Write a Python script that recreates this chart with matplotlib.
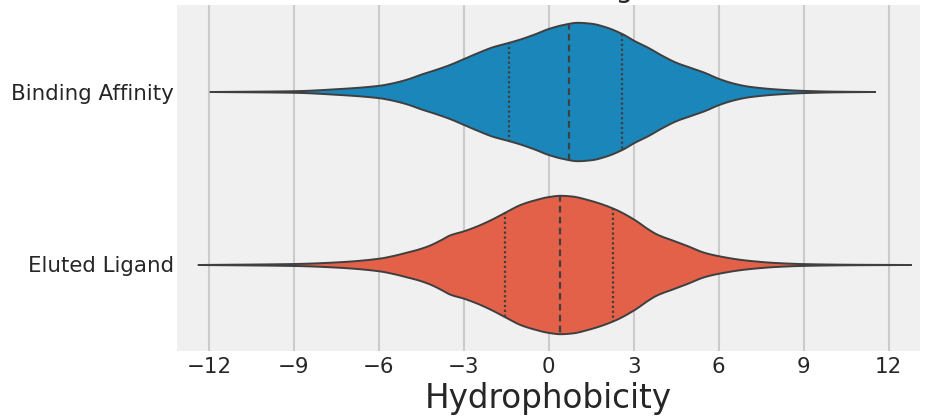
import numpy as np
import matplotlib
matplotlib.use("Agg")
import matplotlib.pyplot as plt
import seaborn as sns

# Categories and their violin profiles (hydrophobicity vs. relative density)
categories = ["Binding Affinity", "Eluted Ligand"]

binding_x = [-11.97, -9.0, -7.5, -6.0, -5.5, -5.0, -4.5, -4.0, -3.5, -3.0, -2.5,
             -2.0, -1.42, -1.0, -0.5, 0.0, 0.5, 1.0, 1.5, 2.0, 2.6, 3.0, 3.5,
             4.0, 4.5, 5.0, 5.5, 6.0, 6.5, 7.0, 7.5, 8.0, 9.0, 10.0, 11.51]
binding_density = [0.0, 0.8, 2.8, 6.2, 8.8, 12.5, 17.5, 22.0, 27.0, 33.0, 39.0,
                   44.5, 49.0, 52.5, 57.5, 63.0, 66.8, 69.0, 68.0, 64.5, 57.5, 51.0, 44.0,
                   36.0, 29.0, 24.0, 19.0, 13.0, 8.5, 5.5, 3.8, 2.6, 1.1, 0.4, 0.0]

eluted_x = [-12.39, -9.0, -7.5, -6.0, -5.5, -5.0, -4.6, -4.2, -3.8, -3.5, -3.0,
            -2.5, -2.0, -1.56, -1.0, -0.5, 0.0, 0.4, 0.8, 1.4, 2.28, 3.0, 3.5,
            3.8, 4.4, 4.87, 5.5, 6.0, 6.8, 7.5, 8.0, 9.0, 10.5, 12.78]
eluted_density = [0.0, 1.0, 2.6, 6.3, 9.0, 12.5, 15.5, 19.5, 25.0, 29.5, 33.7,
                  39.0, 45.5, 52.0, 60.0, 64.5, 67.8, 69.0, 68.3, 64.5, 56.0, 45.2, 35.5,
                  30.5, 24.0, 19.0, 12.0, 8.7, 5.0, 3.0, 2.0, 0.9, 0.3, 0.0]

# Quartiles (Q1, median, Q3)
binding_quartiles = [-1.42, 0.72, 2.60]
eluted_quartiles = [-1.56, 0.40, 2.28]

x_ticks = [-12, -9, -6, -3, 0, 3, 6, 9, 12]


def smooth_outline(xs, ys, n=600):
    """Monotone cubic (PCHIP) curve through the profile points for drawing."""
    xs = np.asarray(xs, dtype=float)
    ys = np.asarray(ys, dtype=float)
    h = np.diff(xs)
    delta = np.diff(ys) / h
    d = np.zeros_like(ys)
    for k in range(1, len(xs) - 1):
        if delta[k - 1] * delta[k] > 0:
            w1 = 2 * h[k] + h[k - 1]
            w2 = h[k] + 2 * h[k - 1]
            d[k] = (w1 + w2) / (w1 / delta[k - 1] + w2 / delta[k])
    d[0] = delta[0]
    d[-1] = delta[-1]
    xf = np.linspace(xs[0], xs[-1], n)
    idx = np.clip(np.searchsorted(xs, xf) - 1, 0, len(xs) - 2)
    t = (xf - xs[idx]) / h[idx]
    h00 = 2 * t**3 - 3 * t**2 + 1
    h10 = t**3 - 2 * t**2 + t
    h01 = -2 * t**3 + 3 * t**2
    h11 = t**3 - t**2
    yf = (h00 * ys[idx] + h10 * h[idx] * d[idx]
          + h01 * ys[idx + 1] + h11 * h[idx] * d[idx + 1])
    return xf, np.clip(yf, 0, None)


plt.style.use("fivethirtyeight")
palette = [sns.desaturate(c, 0.75) for c in ["#008fd5", "#fc4f30"]]
line_color = "#3f3f3f"

fig = plt.figure(figsize=(9.25, 4.17), dpi=100, facecolor="white")
ax = fig.add_axes([177 / 925, 1 - 351 / 417, 743 / 925, 346 / 417])
ax.set_facecolor("#f0f0f0")

profiles = [(binding_x, binding_density, binding_quartiles),
            (eluted_x, eluted_density, eluted_quartiles)]
peak = max(max(binding_density), max(eluted_density))

for i, ((xs, dens, quarts), color) in enumerate(zip(profiles, palette)):
    xf, df = smooth_outline(xs, dens)
    hw = 0.4 * df / peak
    ax.fill_between(xf, i - hw, i + hw, facecolor=color, edgecolor=line_color,
                    linewidth=1.4, zorder=2)
    for q, kind in zip(quarts, ["q", "m", "q"]):
        h = np.interp(q, xf, hw)
        if kind == "m":
            ax.plot([q, q], [i - h, i + h], color=line_color, lw=1.6,
                    dashes=(3.0, 1.9), zorder=3)
        else:
            ax.plot([q, q], [i - h, i + h], color=line_color, lw=1.6,
                    dashes=(1.0, 1.2), zorder=3)

ax.set_xlim(-13.13, 13.11)
ax.set_ylim(1.5, -0.5)
ax.set_xticks(x_ticks)
ax.set_xticklabels([f"{t}".replace("-", "\u2212") for t in x_ticks])
ax.set_yticks([0, 1])
ax.set_yticklabels(categories)
ax.tick_params(axis="both", length=0, labelsize=15.4, colors="#262626")
ax.tick_params(axis="y", pad=2)
ax.tick_params(axis="x", pad=4)
ax.xaxis.grid(True, color="#cbcbcb", linewidth=1.5)
ax.yaxis.grid(False)
ax.set_axisbelow(True)
for s in ax.spines.values():
    s.set_visible(False)

ax.set_xlabel("Hydrophobicity", fontsize=23.5, color="#262626", labelpad=4)

fig.text(633 / 925, 1 + 3 / 417, "Eluted vs Binding", ha="right", va="baseline",
         fontsize=20, color="#262626")

fig.savefig("out.png", dpi=100, facecolor="white")
